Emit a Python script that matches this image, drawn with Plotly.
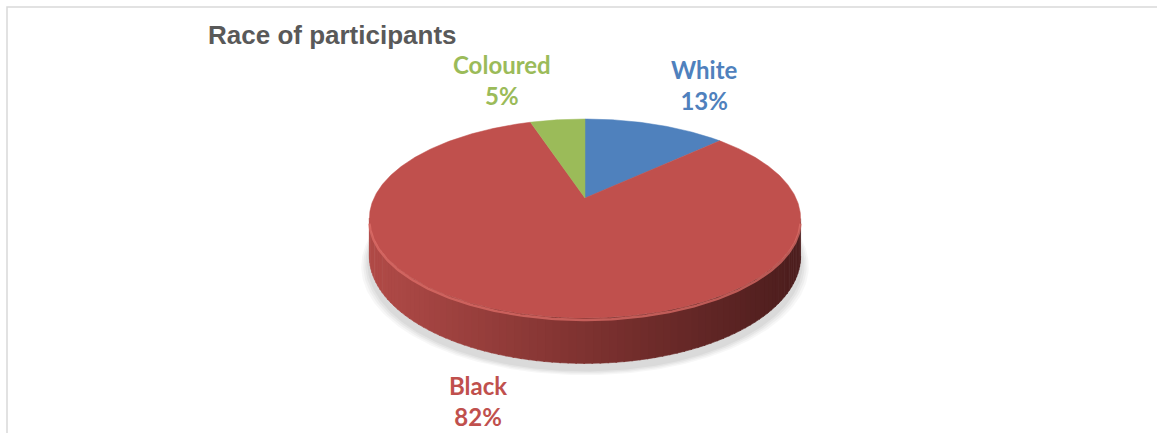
import numpy as np
import plotly.graph_objects as go

# Survey breakdown
categories = ["White", "Black", "Coloured"]
values = [13, 82, 5]
pct_labels = ["13%", "82%", "5%"]
colors = ["#4f81bd", "#c0504d", "#9bbb59"]

W, H = 1157, 433

# Tilted-disc geometry (pixel units on a 1:1 axis)
CX, CY = 585, 198          # centre of the disc top
RX, RY = 211, 95.3         # horizontal / depth radii
DIST = 4.85                # perspective distance (in radii)
DEPTH = 36                 # thickness of the disc


def project(theta_deg, drop=0.0):
    t = np.radians(theta_deg)
    xr = np.sin(t)
    zr = -np.cos(t)                     # + toward viewer
    s = DIST / (DIST - zr)
    return CX + RX * xr * s, CY + (RY * zr + drop) * s


def arc(a0, a1, drop=0.0, n=None):
    n = n or max(int(abs(a1 - a0) * 2), 4)
    th = np.linspace(a0, a1, n)
    return project(th, drop)


fig = go.Figure()

# soft floor shadow
for k, op in enumerate([0.03, 0.035, 0.04, 0.045]):
    grow = 8 - k * 2
    x, y = arc(0, 360, DEPTH + 3 + grow * 0.5, 361)
    x = CX + (x - CX) * (1 + grow / 211)
    fig.add_trace(go.Scatter(x=x, y=y + 3, fill="toself", mode="lines",
                             line=dict(width=0), fillcolor=f"rgba(0,0,0,{op})",
                             hoverinfo="skip", showlegend=False))

fracs = np.array(values, dtype=float) / sum(values)
bounds = np.concatenate([[0], np.cumsum(fracs)]) * 360

# visible side of the disc lies between the perspective silhouettes
sil = np.degrees(np.arccos(-1 / DIST))
vis0, vis1 = sil, 360 - sil


def lerp_col(c0, c1, f):
    return tuple(int(round(a + (b - a) * f)) for a, b in zip(c0, c1))


side_left = (176, 74, 71)
side_mid = (126, 50, 48)
side_right = (76, 29, 29)

for i in range(len(values)):
    a0, a1 = bounds[i], bounds[i + 1]
    s0, s1 = max(a0, vis0), min(a1, vis1)
    if s1 <= s0:
        continue
    n_strips = 90
    edges = np.linspace(s0, s1, n_strips + 1)
    for j in range(n_strips):
        e0, e1 = edges[j], edges[j + 1] + 0.3
        xt, yt = arc(e0, e1, 0, 4)
        xb, yb = arc(e1, e0, DEPTH, 4)
        xm = float(np.mean(xt))
        f = (xm - (CX - RX)) / (2 * RX)
        f = min(max(f, 0), 1)
        if f < 0.5:
            c = lerp_col(side_left, side_mid, f / 0.5)
        else:
            c = lerp_col(side_mid, side_right, (f - 0.5) / 0.5)
        col = f"rgb{c}"
        fig.add_trace(go.Scatter(x=np.r_[xt, xb], y=np.r_[yt, yb], fill="toself",
                                 mode="lines", line=dict(width=0.6, color=col),
                                 fillcolor=col, hoverinfo="skip", showlegend=False))

# top faces
for i in range(len(values)):
    a0, a1 = bounds[i], bounds[i + 1]
    xa, ya = arc(a0, a1)
    fig.add_trace(go.Scatter(x=np.r_[CX, xa, CX], y=np.r_[CY, ya, CY],
                             fill="toself", mode="lines",
                             line=dict(width=0.5, color=colors[i]),
                             fillcolor=colors[i], hoverinfo="skip", showlegend=False))

# bevel highlight along the front rim
xh, yh = arc(vis0 + 2, vis1 - 2, 1.5, 200)
fig.add_trace(go.Scatter(x=xh, y=yh, mode="lines",
                         line=dict(width=2.5, color="rgba(222,110,104,0.75)"),
                         hoverinfo="skip", showlegend=False))

# category labels
label_pos = {"White": (704, 85), "Black": (478, 401), "Coloured": (502, 80)}
for i, name in enumerate(categories):
    lx, ly = label_pos[name]
    fig.add_annotation(x=lx, y=ly, xref="x", yref="y",
                       text=f"<b>{name}<br>{pct_labels[i]}</b>", showarrow=False,
                       font=dict(family="Lato, 'Open Sans', sans-serif", size=24,
                                 color=colors[i]),
                       align="center")

fig.add_annotation(x=206, y=35, xref="x", yref="y", xanchor="left",
                   text="<b>Race of participants</b>", showarrow=False,
                   font=dict(family="Liberation Sans, Arial, sans-serif", size=26,
                             color="#595959"))

# chart frame
fig.add_shape(type="rect", xref="x", yref="y", x0=7, y0=7, x1=W + 10, y1=H + 10,
              line=dict(color="#d9d9d9", width=1.5), layer="below")

fig.update_layout(
    width=W, height=H,
    margin=dict(l=0, r=0, t=0, b=0),
    paper_bgcolor="white", plot_bgcolor="white",
    xaxis=dict(range=[0, W], visible=False, fixedrange=True),
    yaxis=dict(range=[H, 0], visible=False, fixedrange=True),
    showlegend=False,
)

fig.write_html("out.html")
